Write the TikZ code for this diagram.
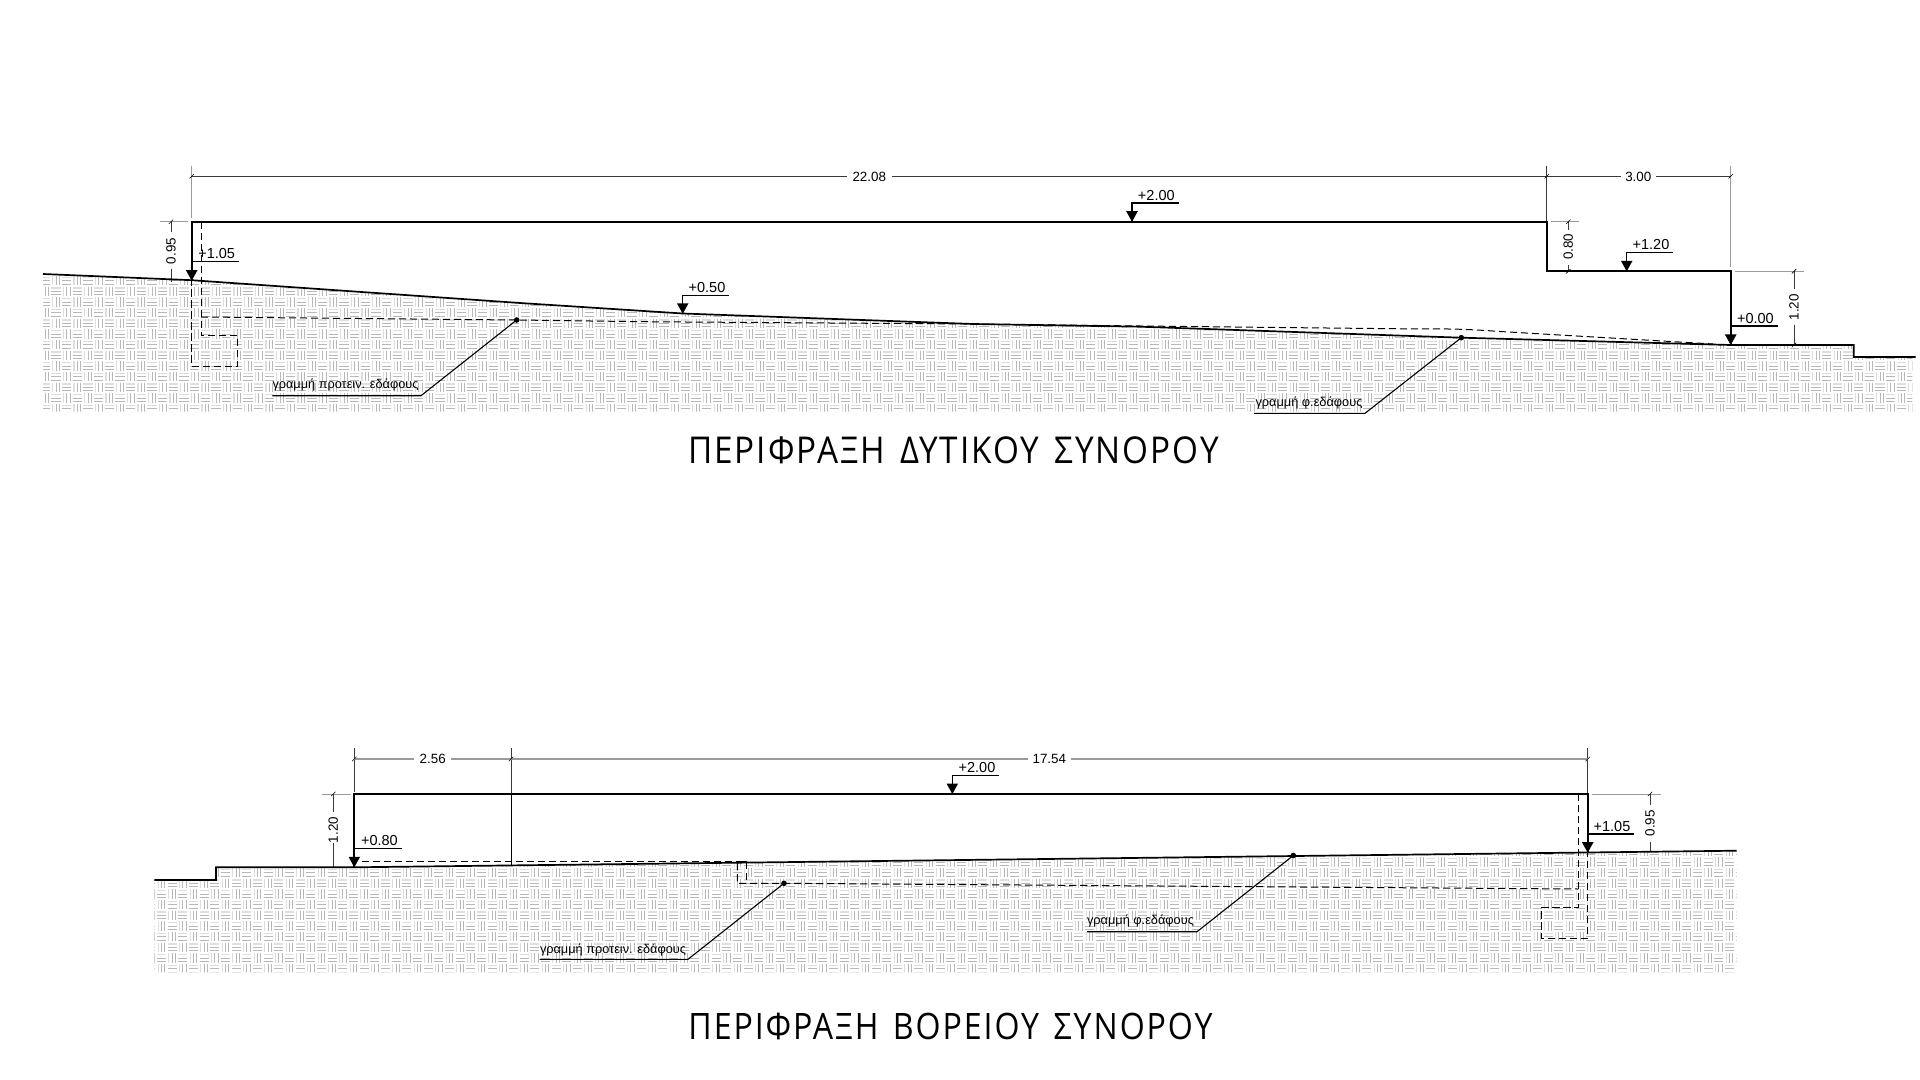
\documentclass[tikz,border=0pt]{standalone}
\usepackage{fontspec}
\usepackage{graphicx}
\setmainfont{Liberation Sans}
\newfontfamily\titlefont[LetterSpace=6]{Open Sans}
\definecolor{hatchlight}{HTML}{DEDEDE}
\definecolor{hatchdark}{HTML}{B8B8B8}
\definecolor{dimgray}{HTML}{9A9A9A}
\definecolor{dimdark}{HTML}{3A3A3A}
\tikzset{
  mainline/.style={line width=0.85pt,black,line join=miter},
  thinline/.style={line width=0.55pt,black},
  dashline/.style={line width=0.5pt,black,dash pattern=on 3.6pt off 1.9pt},
  dimline/.style={line width=0.35pt,dimdark},
  dimlight/.style={line width=0.5pt,dimgray},
  lbl/.style={font=\fontsize{6.7pt}{8pt}\selectfont,inner sep=0pt,anchor=center},
  lvl/.style={font=\fontsize{7.25pt}{8pt}\selectfont,inner sep=0pt,anchor=center},
}
% level marker: name, x, apex y, stem y, right end x, text
\newcommand{\levelmark}[6]{%
  \coordinate (#1a) at (#2,#3);
  \coordinate (#1s) at (#2,#4);
  \coordinate (#1e) at (#5,#4);
  \fill (#1a) -- ++(-5.8,-10.5) -- ++(11.6,0) -- cycle;
  \draw[mainline,line width=0.7pt] (#1a) -- (#1s) -- (#1e);
  \node[lvl] (#1t) at ([xshift=-11.15pt,yshift=3.9pt]#1e) {#6};
}
\newcommand{\dimtick}[2]{\draw[line width=0.3pt,black] (#1-2.2,#2+2.2) -- (#1+2.2,#2-2.2);}
% hatch: x0,y0,cols,rows,parity
\newcommand{\hatch}[5]{%
  \foreach \c in {0,...,#3}{
    \foreach \r in {0,...,#4}{
      \pgfmathsetmacro{\cx}{#1+(\c+0.5)*10.667}
      \pgfmathsetmacro{\cy}{#2+(\r+0.5)*10.667}
      \pgfmathtruncatemacro{\pp}{mod(\c+\r+#5,2)}
      \ifnum\pp=0
        \draw[hatchlight,line width=0.55pt] (\cx-3.3,\cy-4.6) -- (\cx-3.3,\cy+4.6);
        \draw[hatchdark,line width=0.4pt] (\cx,\cy-4.6) -- (\cx,\cy+4.6) (\cx+3.3,\cy-4.6) -- (\cx+3.3,\cy+4.6);
      \else
        \draw[hatchlight,line width=0.55pt] (\cx-4.6,\cy-3.3) -- (\cx+4.6,\cy-3.3);
        \draw[hatchdark,line width=0.4pt] (\cx-4.6,\cy) -- (\cx+4.6,\cy) (\cx-4.6,\cy+3.3) -- (\cx+4.6,\cy+3.3);
      \fi
    }
  }
}
\begin{document}
\begin{tikzpicture}[x=0.5pt,y=-0.5pt]
\useasboundingbox (0,0) rectangle (1920,1080);
\fill[white] (0,0) rectangle (1920,1080);

%%%%%%%% HATCH, WEST
\begin{scope}
\clip (43,274) -- (191.7,280.2) -- (520,303) -- (682.7,313.5) -- (973,324) -- (1140,326.7) -- (1461.3,337.7) -- (1730.7,345) -- (1853.7,345) -- (1853.7,357) -- (1912.3,357) -- (1912.3,411.7) -- (43,411.7) -- cycle;
\hatch{40}{275.3}{176}{13}{1}
\end{scope}
%%%%%%%% HATCH, NORTH
\begin{scope}
\clip (154.3,880) -- (216,880) -- (216,867.3) -- (354.3,867.3) -- (1736.7,850.7) -- (1736.7,972.3) -- (154.3,972.3) -- cycle;
\hatch{134.8}{846}{151}{12}{1}
\end{scope}

%%%%%%%% WEST SECTION
% dimensions
\coordinate (wA) at (191.7,176.3);
\coordinate (wB) at (1546.7,176.3);
\coordinate (wC) at (1730.7,176.3);
\draw[dimlight] (191.7,165.7) -- (191.7,218);
\draw[dimline] (1546.7,165.7) -- (1546.7,221.7);
\draw[dimlight] (1730.7,165.7) -- (1730.7,266.7);
\node[lbl] (d2208) at (869.3,176.6) {22.08};
\node[lbl] (d300) at (1638.3,176.6) {3.00};
\draw[dimline] (wA) -- (846.7,176.3) (891.7,176.3) -- (wB) -- (1621,176.3) (1656,176.3) -- (wC);
\dimtick{191.7}{176.3}\dimtick{1546.7}{176.3}\dimtick{1730.7}{176.3}
% 0.95
\draw[dimlight] (160,221.7) -- (188,221.7);
\draw[dimline] (171,221.7) -- (171,231.7) (171,269) -- (171,281.7);
\dimtick{171}{221.7}
\node[lbl,rotate=90] (d095a) at (171,251) {0.95};
% 0.80
\draw[dimlight] (1550.7,221.7) -- (1579,221.7);
\draw[dimline] (1568.3,221.7) -- (1568.3,230) (1568.3,265) -- (1568.3,271.3);
\dimtick{1568.3}{221.7}\dimtick{1568.3}{271.3}
\node[lbl,rotate=90] (d080) at (1568.3,246.7) {0.80};
% 1.20
\draw[dimlight] (1735,271.3) -- (1804.3,271.3);
\draw[dimline] (1794,271.3) -- (1794,289.3) (1794,325) -- (1794,345);
\dimtick{1794}{271.3}\dimtick{1794}{345}
\node[lbl,rotate=90] (d120a) at (1794,307.3) {1.20};
% outline
\draw[mainline] (191.7,280.2) -- (191.7,221.7) -- (1546.7,221.7) -- (1546.7,271.3) -- (1730.7,271.3) -- (1730.7,345);
\draw[mainline] (43,274) -- (191.7,280.2) -- (520,303) -- (682.7,313.5) -- (973,324) -- (1140,326.7) -- (1461.3,337.7) -- (1730.7,345) -- (1853.7,345) -- (1853.7,357) -- (1915.7,357);
% proposed ground, dashed
\draw[dashline] (201,221.7) -- (201,335.7) -- (237.7,335.7) -- (237.7,366.3) -- (191.7,366.3) -- (191.7,280.2);
\draw[dashline] (201,317) -- (516.7,320) -- (642.7,321.7) -- (973,324) -- (1140,326) -- (1420,329) .. controls (1450,328.6) and (1470,329.3) .. (1500,331.5) -- (1713,344);
% leaders
\coordinate (wp1) at (516.7,320);
\coordinate (wp2) at (421,395.7);
\coordinate (wp3) at (272.3,395.7);
\coordinate (wq1) at (1461.3,337.7);
\coordinate (wq2) at (1365,413.3);
\coordinate (wq3) at (1254,413.3);
\fill (wp1) circle (2.8);
\fill (wq1) circle (2.8);
\draw[thinline] (wp1) -- (wp2) -- (wp3);
\draw[thinline] (wq1) -- (wq2) -- (wq3);
\node[lbl] (wpt) at (345.5,385.2) {\resizebox{73pt}{!}{γραμμή προτειν. εδάφους}};
\node[lbl] (wqt) at (1309,403) {\resizebox{53.5pt}{!}{γραμμή φ.εδάφους}};
% levels
\levelmark{w1}{1132}{221.7}{203.1}{1178.6}{+2.00}
\levelmark{w2}{1626.7}{271.3}{252.7}{1673.3}{+1.20}
\levelmark{w3}{682.7}{313.8}{295.7}{729.3}{+0.50}
\levelmark{w4}{1730.7}{345}{326}{1777.7}{+0.00}
\levelmark{w5}{191.7}{280.7}{261.3}{239}{+1.05}
\node[inner sep=0pt] (wtitle) at (953.5,450) {\resizebox{265.3pt}{13.4pt}{\titlefont ΠΕΡΙΦΡΑΞΗ\hspace{0.45em}ΔΥΤΙΚΟΥ\hspace{0.45em}ΣΥΝΟΡΟΥ}};

%%%%%%%% NORTH SECTION
% dimensions
\draw[dimline] (354.3,748.3) -- (354.3,792);
\draw[dimline] (511,748.3) -- (511,794);
\draw[dimline] (1587.7,748.3) -- (1587.7,794);
\node[lbl] (d256) at (432.7,759.3) {2.56};
\node[lbl] (d1754) at (1049.3,759.3) {17.54};
\draw[dimlight,line width=0.8pt] (354.3,759) -- (414,759) (451,759) -- (1028.3,759) (1071,759) -- (1587.7,759);
\dimtick{354.3}{759}\dimtick{511}{759}\dimtick{1587.7}{759}
% 1.20
\draw[dimlight] (322.3,794) -- (351,794);
\draw[dimline] (333.3,794) -- (333.3,811.7) (333.3,843) -- (333.3,867);
\dimtick{333.3}{794}
\node[lbl,rotate=90] (d120b) at (333.3,830) {1.20};
% 0.95
\draw[dimlight] (1591.7,794) -- (1661,794);
\draw[dimline] (1650,794) -- (1650,805) (1650,841.7) -- (1650,852);
\dimtick{1650}{794}
\node[lbl,rotate=90] (d095b) at (1650,823.3) {0.95};
% outline
\draw[mainline] (354.3,867.3) -- (354.3,794) -- (1587.7,794) -- (1587.7,852.7);
\draw[thinline,line width=0.45pt] (511,794) -- (511,865.5);
\draw[mainline] (154.3,880) -- (216,880) -- (216,867.3) -- (354.3,867.3) -- (1736.7,850.7);
% proposed ground, dashed
\draw[dashline] (361.7,861.5) -- (746.7,861.5) -- (746.7,883.3);
\draw[dashline] (746.7,861.5) -- (737.3,861.5) -- (737.3,883.3) -- (784,883.3) -- (1578.3,889);
\draw[dashline] (1578.3,794) -- (1578.3,907.3) -- (1541.7,907.3) -- (1541.7,938.3) -- (1587.7,938.3) -- (1587.7,852.7);
% leaders
\coordinate (np1) at (784,883.3);
\coordinate (np2) at (688,959.3);
\coordinate (np3) at (539.5,959.3);
\coordinate (nq1) at (1293.3,855.5);
\coordinate (nq2) at (1197,931.7);
\coordinate (nq3) at (1087,931.7);
\fill (np1) circle (2.8);
\fill (nq1) circle (2.8);
\draw[thinline] (np1) -- (np2) -- (np3);
\draw[thinline] (nq1) -- (nq2) -- (nq3);
\node[lbl] (npt) at (613,950) {\resizebox{73pt}{!}{γραμμή προτειν. εδάφους}};
\node[lbl] (nqt) at (1140.5,921.5) {\resizebox{53.5pt}{!}{γραμμή φ.εδάφους}};
% levels
\levelmark{n1}{952.3}{794}{775.7}{999.3}{+2.00}
\levelmark{n2}{354.3}{867.3}{848.7}{401.7}{+0.80}
\levelmark{n3}{1587.7}{852.7}{834}{1634.3}{+1.05}
\node[inner sep=0pt] (ntitle) at (950.5,1026.5) {\resizebox{262pt}{13.2pt}{\titlefont ΠΕΡΙΦΡΑΞΗ\hspace{0.45em}ΒΟΡΕΙΟΥ\hspace{0.45em}ΣΥΝΟΡΟΥ}};
\end{tikzpicture}
\end{document}
